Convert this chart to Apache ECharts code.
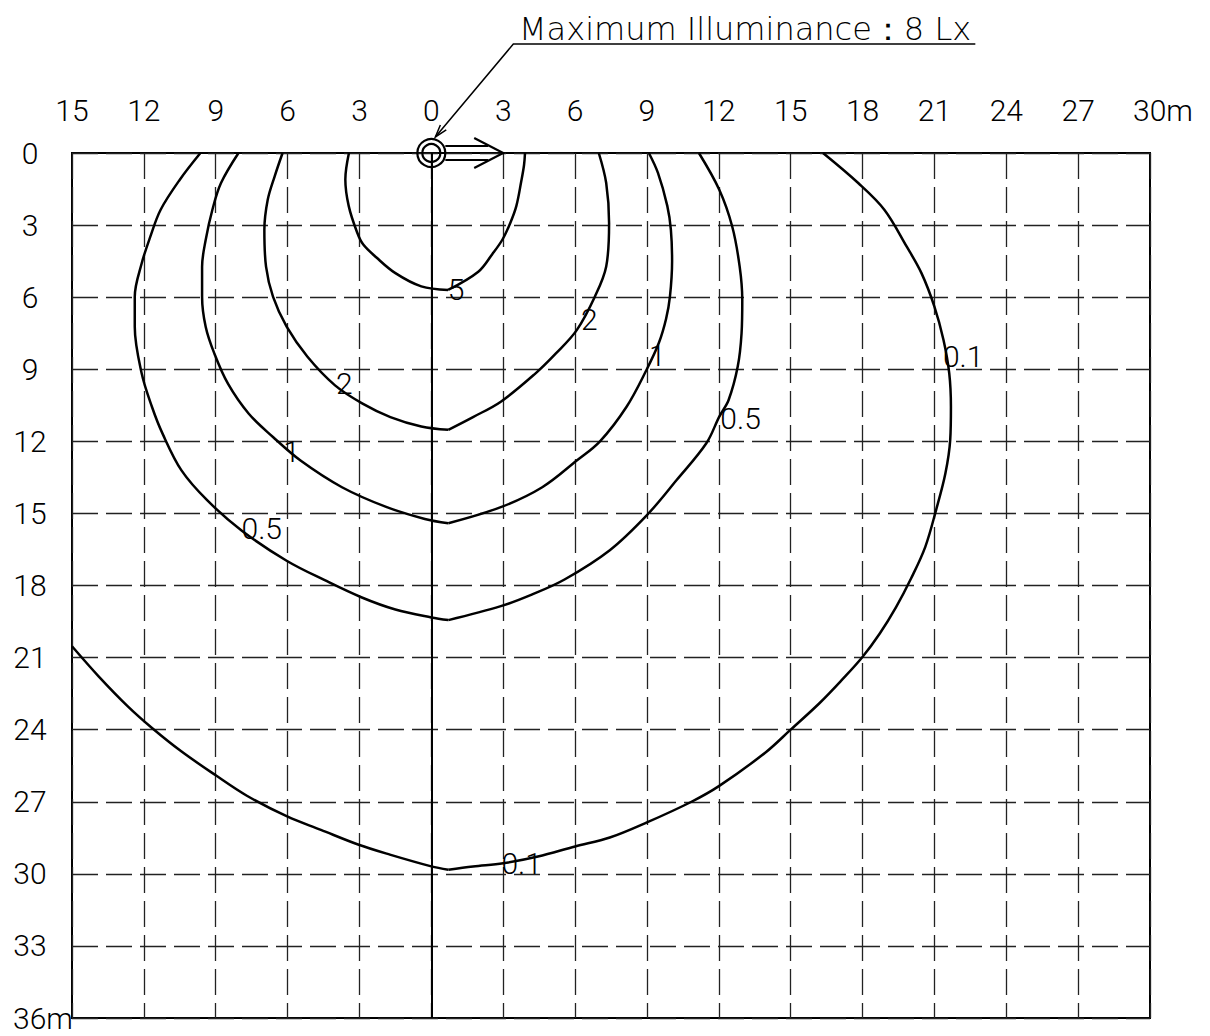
<!DOCTYPE html>
<html>
<head>
<meta charset="utf-8">
<script src="https://cdn.jsdelivr.net/npm/echarts@6/dist/echarts.min.js"></script>
<style>
  html, body { margin: 0; padding: 0; background: #fff; }
  #main { width: 1210px; height: 1036px; }
</style>
</head>
<body>
<div id="main"></div>
<script>
// iso-lux lines, [x (m), distance (m)]
const lux5 = [[-3.44,0],[-3.59,1.1],[-3.45,2.2],[-3.1,3.3],[-2.85,3.8],[-2.29,4.35],[-1.5,5.0],[-0.42,5.55],[0.7,5.7],
  [1.96,4.94],[2.55,4.2],[2.97,3.6],[3.3,2.9],[3.55,2.2],[3.75,1.2],[3.87,0.5],[3.91,0]];
const lux2 = [[-6.21,0],[-6.54,0.97],[-6.83,1.95],[-6.97,3.2],[-6.9,4.73],[-6.61,5.98],[-6.04,7.23],[-5.17,8.48],
  [-4.02,9.67],[-2.87,10.43],[-1.71,10.99],[-0.42,11.38],[0.71,11.52],[1.74,10.99],[2.9,10.35],[4.34,9.18],
  [5.2,8.34],[6.07,7.37],[6.83,5.97],[7.3,4.72],[7.42,2.92],[7.3,1.25],[6.99,0]];
const lux1 = [[-8.05,0],[-8.78,1.25],[-9.14,2.36],[-9.42,3.62],[-9.57,4.73],[-9.57,5.98],[-9.42,7.23],[-9.06,8.34],
  [-8.49,9.6],[-7.62,10.85],[-6.61,11.82],[-5.46,12.8],[-3.73,13.91],[-1.86,14.74],[-0.27,15.23],[0.71,15.41],
  [2.9,14.74],[4.63,13.91],[6.07,12.8],[7.04,12.0],[8.15,10.56],[8.98,9.03],[9.5,7.9],[9.8,6.9],[9.96,5.98],
  [10.05,4.5],[10.0,3.2],[9.85,2.2],[9.46,0.83],[9.08,0]];
const lux05 = [[-9.64,0],[-10.5,1.11],[-11.3,2.36],[-11.73,3.48],[-12.09,4.59],[-12.38,5.98],[-12.38,7.23],
  [-12.09,9.18],[-11.66,10.57],[-11.22,11.68],[-10.43,13.21],[-9.35,14.46],[-7.91,15.72],[-6.04,16.97],
  [-4.45,17.78],[-2.9,18.5],[-1.5,19.0],[0,19.33],[0.71,19.44],[2.9,18.86],[4.19,18.38],[5.56,17.75],
  [7.45,16.53],[9.0,15.07],[10.24,13.61],[11.48,12.08],[12.02,10.97],[12.41,10.28],[12.79,8.89],[12.95,7.5],
  [12.98,6.11],[12.87,4.72],[12.56,3.06],[12.02,1.53],[11.17,0]];
const lux01 = [[-15,20.53],[-13.89,21.78],[-12.67,23.03],[-11.66,23.93],[-10.44,24.9],[-9.0,25.9],[-7.7,26.75],
  [-6.02,27.61],[-4.61,28.17],[-3.03,28.79],[-1.73,29.2],[0,29.69],[0.71,29.83],[1.74,29.69],
  [3.0,29.56],[4.45,29.28],[6.0,28.86],[7.45,28.49],[9.0,27.86],[10.86,27.0],[12.02,26.34],[13.95,24.95],
  [15.0,24.0],[16.2,22.9],[17.12,21.95],[17.98,21.0],[18.72,20.0],[19.4,18.9],[20.03,17.7],[20.62,16.39],
  [21.07,14.86],[21.46,13.33],[21.66,11.94],[21.69,10.56],[21.62,9.17],[21.38,7.78],[21.0,6.39],[20.46,5.0],
  [19.84,3.89],[18.91,2.36],[17.82,1.25],[16.35,0]];

// where the value labels sit on the lines
const contourLabels = [[1.03,5.7,'5'],[-3.63,9.58,'2'],[6.59,6.95,'2'],[-5.83,12.43,'1'],[9.43,8.41,'1'],
  [-7.08,15.62,'0.5'],[12.91,11.04,'0.5'],[22.2,8.48,'0.1'],[3.77,29.56,'0.1']];

const lampPos = [0, 0];
const arrowTip = [3, 0];
const titleText = 'Maximum Illuminance：8 Lx';

const FONT = 'Roboto';
const FS = 30;

// each line has a sharp corner at its lowest point, so it is drawn as two smoothed halves
function contour(name, data) {
    let k = 0;
    data.forEach((d, i) => { if (d[1] > data[k][1]) k = i; });
    return [data.slice(0, k + 1), data.slice(k)].map(part => ({
        name: name, type: 'line', data: part, symbol: 'none', smooth: 0.35,
        lineStyle: { color: '#000', width: 2.5 }, silent: true, z: 3
    }));
}

function renderLamp(params, api) {
    const p = api.coord(lampPos);
    const q = api.coord(arrowTip);
    const ls = { stroke: '#000', lineWidth: 2.2, fill: null };
    const kids = [];
    kids.push({ type: 'circle', shape: { cx: p[0], cy: p[1], r: 14 }, style: ls });
    kids.push({ type: 'circle', shape: { cx: p[0], cy: p[1], r: 9 }, style: ls });
    // direction arrow
    kids.push({ type: 'line', shape: { x1: p[0] + 14, y1: p[1] - 7, x2: q[0] - 15, y2: q[1] - 7 }, style: ls });
    kids.push({ type: 'line', shape: { x1: p[0] + 14, y1: p[1] + 7, x2: q[0] - 15, y2: q[1] + 7 }, style: ls });
    kids.push({ type: 'polyline', shape: { points: [[q[0] - 29, q[1] - 15], [q[0], q[1]], [q[0] - 29, q[1] + 15]] }, style: ls });
    // leader to the caption
    const tip = [p[0] + 4, p[1] - 16];
    const knee = [p[0] + 82, p[1] - 109];
    kids.push({ type: 'polyline', shape: { points: [tip, knee, [p[0] + 544, knee[1]]] }, style: { stroke: '#000', lineWidth: 1.5, fill: null } });
    const dx = knee[0] - tip[0], dy = knee[1] - tip[1];
    const a = Math.atan2(dy, dx);
    const L = 13;
    kids.push({ type: 'polyline', shape: { points: [
        [tip[0] + L * Math.cos(a + 0.3), tip[1] + L * Math.sin(a + 0.3)], tip,
        [tip[0] + L * Math.cos(a - 0.3), tip[1] + L * Math.sin(a - 0.3)]] },
        style: { stroke: '#000', lineWidth: 1.5, fill: null } });
    return { type: 'group', children: kids };
}

const chart = echarts.init(document.getElementById('main'), null, { renderer: 'svg' });

const option = {
    animation: false,
    backgroundColor: '#fff',
    title: {
        text: titleText, left: 514, top: 8,
        textStyle: { fontFamily: 'DejaVu Sans', fontWeight: 200, fontSize: 32, color: '#000' }
    },
    grid: { left: 72, right: 60, top: 153, bottom: 18, show: true, borderColor: '#000', borderWidth: 2, backgroundColor: 'transparent' },
    xAxis: {
        type: 'value', position: 'top', min: -15, max: 30, interval: 3,
        axisLine: { show: false }, axisTick: { show: false },
        axisLabel: {
            margin: 28, color: '#000', fontFamily: FONT, fontWeight: 300, fontSize: FS,
            formatter: v => v === 30 ? '{n|30}{u|m}' : String(Math.abs(v)),
            rich: {
                n: { fontFamily: FONT, fontWeight: 300, fontSize: FS, color: '#000', padding: [0, 0, 0, 26] },
                u: { fontFamily: FONT, fontWeight: 300, fontSize: FS, color: '#000' }
            }
        },
        splitLine: { show: true, lineStyle: { color: '#222', width: 1.3, type: [26, 8] } }
    },
    yAxis: {
        type: 'value', inverse: true, min: 0, max: 36, interval: 3,
        axisLine: { show: false }, axisTick: { show: false },
        axisLabel: {
            margin: 42, align: 'center', color: '#000', fontFamily: FONT, fontWeight: 300, fontSize: FS,
            formatter: v => v === 36 ? '{n|36}{u|m}' : String(v),
            rich: {
                n: { fontFamily: FONT, fontWeight: 300, fontSize: FS, color: '#000', padding: [0, 0, 0, 26] },
                u: { fontFamily: FONT, fontWeight: 300, fontSize: FS, color: '#000' }
            }
        },
        splitLine: { show: true, lineStyle: { color: '#222', width: 1.3, type: [26, 8] } }
    },
    series: [
        ...contour('5', lux5),
        ...contour('2', lux2),
        ...contour('1', lux1),
        ...contour('0.5', lux05),
        ...contour('0.1', lux01),
        {
            type: 'scatter', data: contourLabels, symbolSize: 1, silent: true, z: 4,
            itemStyle: { color: 'rgba(0,0,0,0)' },
            label: {
                show: true, position: 'inside', formatter: p => p.value[2],
                fontFamily: FONT, fontWeight: 300, fontSize: FS, color: '#000',
                textBorderWidth: 0, textBorderColor: 'transparent', opacity: 1
            }
        },
        {
            type: 'line', data: [], silent: true,
            markLine: {
                silent: true, symbol: 'none', label: { show: false },
                lineStyle: { color: '#000', width: 2, type: 'solid' },
                data: [{ xAxis: 0 }]
            }
        },
        {
            type: 'custom', data: [lampPos], clip: false, silent: true, z: 5,
            renderItem: renderLamp
        }
    ]
};

chart.setOption(option);
</script>
</body>
</html>
